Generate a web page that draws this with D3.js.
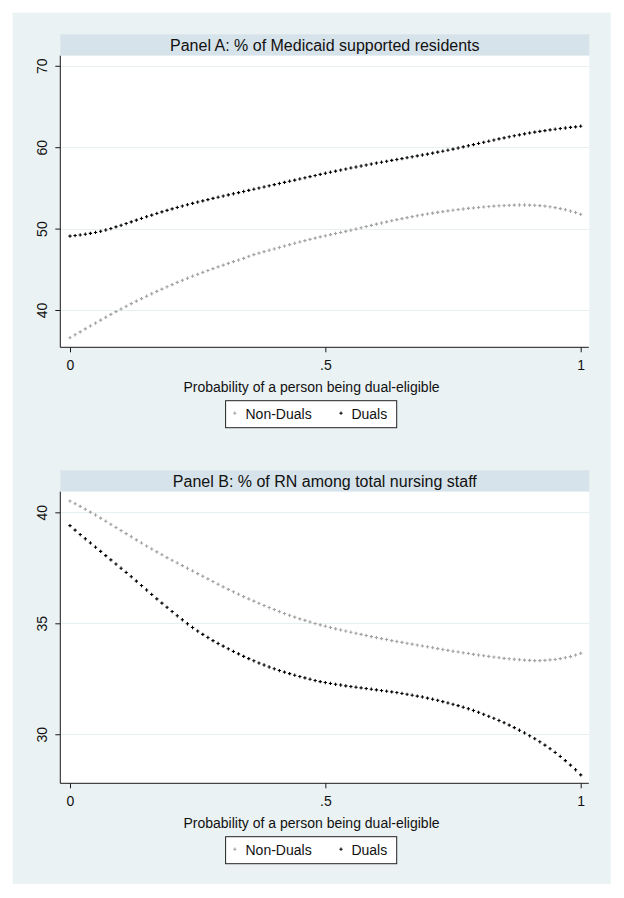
<!DOCTYPE html>
<html>
<head>
<meta charset="utf-8">
<script src="https://cdn.jsdelivr.net/npm/d3@7"></script>
<style>
  html, body { margin: 0; padding: 0; background: #ffffff; }
  svg { display: block; }
  text { font-family: "Liberation Sans", Arial, sans-serif; fill: #111; }
</style>
</head>
<body>
<svg id="chart" width="624" height="898"></svg>
<script>
// ---------- DATA ----------
const xGrid = [0,0.01,0.02,0.03,0.04,0.05,0.06,0.07,0.08,0.09,0.1,0.11,0.12,0.13,0.14,0.15,0.16,0.17,0.18,0.19,
  0.2,0.21,0.22,0.23,0.24,0.25,0.26,0.27,0.28,0.29,0.3,0.31,0.32,0.33,0.34,0.35,0.36,0.37,0.38,0.39,
  0.4,0.41,0.42,0.43,0.44,0.45,0.46,0.47,0.48,0.49,0.5,0.51,0.52,0.53,0.54,0.55,0.56,0.57,0.58,0.59,
  0.6,0.61,0.62,0.63,0.64,0.65,0.66,0.67,0.68,0.69,0.7,0.71,0.72,0.73,0.74,0.75,0.76,0.77,0.78,0.79,
  0.8,0.81,0.82,0.83,0.84,0.85,0.86,0.87,0.88,0.89,0.9,0.91,0.92,0.93,0.94,0.95,0.96,0.97,0.98,0.99,1];

const seriesNames = ["Non-Duals", "Duals"];

// Panel A: % of Medicaid supported residents
const panelA_nonDuals = [36.6,36.96,37.32,37.68,38.04,38.4,38.76,39.11,39.46,39.8,
  40.13,40.46,40.78,41.09,41.4,41.7,42.0,42.29,42.57,42.85,
  43.12,43.39,43.65,43.9,44.15,44.39,44.62,44.85,45.08,45.3,
  45.52,45.73,45.94,46.14,46.34,46.6,46.8,46.99,47.17,47.34,
  47.5,47.68,47.86,48.03,48.2,48.36,48.52,48.68,48.83,48.98,
  49.12,49.26,49.4,49.53,49.66,49.8,49.95,50.1,50.25,50.4,
  50.55,50.69,50.83,50.97,51.1,51.23,51.35,51.47,51.58,51.69,
  51.8,51.9,52.0,52.09,52.18,52.26,52.34,52.41,52.48,52.54,
  52.6,52.66,52.71,52.76,52.8,52.83,52.86,52.88,52.9,52.9,
  52.89,52.86,52.82,52.76,52.68,52.58,52.46,52.32,52.16,51.98,51.76];
const panelA_duals = [49.08,49.15,49.22,49.31,49.41,49.53,49.67,49.83,50.01,50.21,
  50.41,50.62,50.83,51.04,51.25,51.46,51.66,51.86,52.05,52.24,
  52.42,52.6,52.77,52.94,53.1,53.26,53.41,53.56,53.71,53.86,
  54.0,54.14,54.28,54.42,54.56,54.7,54.84,54.98,55.12,55.26,
  55.4,55.54,55.68,55.82,55.96,56.1,56.24,56.38,56.52,56.66,
  56.8,56.93,57.06,57.19,57.32,57.45,57.57,57.69,57.81,57.93,
  58.05,58.16,58.27,58.38,58.49,58.6,58.71,58.82,58.93,59.04,
  59.15,59.27,59.39,59.51,59.63,59.76,59.9,60.04,60.18,60.32,
  60.46,60.6,60.74,60.88,61.02,61.15,61.28,61.4,61.52,61.64,
  61.75,61.85,61.95,62.04,62.13,62.21,62.29,62.36,62.43,62.5,62.58];

// Panel B: % of RN among total nursing staff
const panelB_nonDuals = [40.51,40.39,40.27,40.14,40.01,39.88,39.74,39.6,39.46,39.32,
  39.18,39.04,38.9,38.76,38.62,38.48,38.35,38.22,38.09,37.96,
  37.84,37.72,37.6,37.48,37.36,37.24,37.12,37.0,36.88,36.76,
  36.64,36.53,36.42,36.31,36.2,36.1,36.0,35.9,35.8,35.71,
  35.62,35.53,35.44,35.36,35.28,35.2,35.13,35.06,34.99,34.93,
  34.87,34.81,34.75,34.7,34.65,34.6,34.55,34.5,34.45,34.4,
  34.36,34.31,34.27,34.22,34.18,34.14,34.1,34.06,34.02,33.98,
  33.94,33.9,33.86,33.82,33.78,33.74,33.71,33.67,33.64,33.6,
  33.57,33.54,33.51,33.48,33.45,33.42,33.4,33.38,33.36,33.34,
  33.33,33.32,33.32,33.33,33.35,33.37,33.41,33.45,33.5,33.57,33.65];
const panelB_duals = [39.4,39.2,39.0,38.81,38.62,38.43,38.24,38.05,37.86,37.67,
  37.48,37.29,37.1,36.9,36.7,36.5,36.3,36.1,35.91,35.72,
  35.53,35.34,35.16,34.98,34.81,34.65,34.5,34.36,34.22,34.09,
  33.97,33.85,33.73,33.62,33.51,33.41,33.31,33.21,33.12,33.03,
  32.95,32.87,32.8,32.73,32.66,32.6,32.54,32.48,32.42,32.37,
  32.33,32.29,32.25,32.22,32.18,32.15,32.12,32.09,32.06,32.03,
  32.0,31.97,31.94,31.91,31.88,31.84,31.8,31.76,31.72,31.68,
  31.63,31.58,31.53,31.47,31.41,31.35,31.29,31.22,31.15,31.07,
  30.99,30.9,30.81,30.72,30.62,30.52,30.41,30.3,30.18,30.06,
  29.93,29.8,29.66,29.51,29.35,29.18,29.0,28.81,28.61,28.4,28.17];

const xTicks = [0, 0.5, 1];
const xTickLabels = ["0", ".5", "1"];
const panelA_yTicks = [40, 50, 60, 70];
const panelB_yTicks = [30, 35, 40];

const panelTitles = ["Panel A: % of Medicaid supported residents", "Panel B: % of RN among total nursing staff"];
const xTitle = "Probability of a person being dual-eligible";

// ---------- LAYOUT ----------
const svg = d3.select("#chart");
const colors = { bg: "#eaf2f3", band: "#d7e3ea", grid: "#e6eff1", nonDuals: "#a3a3a3", duals: "#000000", axis: "#1a1a1a" };

svg.append("rect").attr("x", 12.7).attr("y", 12.7).attr("width", 598).attr("height", 871.3).attr("fill", colors.bg);

const plotLeft = 60.3, plotRight = 589.3;
const panels = [
  { top: 34.3, title: panelTitles[0], nd: panelA_nonDuals, d: panelA_duals, yTicks: panelA_yTicks, yDomain: [35.42, 71.24] },
  { top: 470.3, title: panelTitles[1], nd: panelB_nonDuals, d: panelB_duals, yTicks: panelB_yTicks, yDomain: [27.79, 40.93] }
];

const crossSym = d3.symbol().type(d3.symbolCross).size(6);

panels.forEach(p => {
  const g = svg.append("g");
  const bandH = 21.4;
  const plotTop = p.top + bandH;
  const plotBottom = p.top + 313;

  const x = d3.scaleLinear().domain([0, 1]).range([70, 580.7]);
  const y = d3.scaleLinear().domain(p.yDomain).range([plotBottom, plotTop]);

  // title band
  g.append("rect").attr("x", plotLeft).attr("y", p.top).attr("width", plotRight - plotLeft).attr("height", bandH).attr("fill", colors.band);
  g.append("text").attr("x", (plotLeft + plotRight) / 2).attr("y", p.top + 16.3)
    .attr("text-anchor", "middle").style("font-size", "16px").text(p.title);

  // plot region
  g.append("rect").attr("x", plotLeft).attr("y", plotTop).attr("width", plotRight - plotLeft).attr("height", plotBottom - plotTop).attr("fill", "#ffffff");

  // grid lines
  g.selectAll(".grid").data(p.yTicks).enter().append("line")
    .attr("x1", plotLeft + 1).attr("x2", plotRight)
    .attr("y1", d => Math.round(y(d)) + 0.5).attr("y2", d => Math.round(y(d)) + 0.5)
    .attr("stroke", colors.grid).attr("stroke-width", 1);

  // y axis
  const yAxis = d3.axisLeft(y).tickValues(p.yTicks).tickSize(5).tickPadding(3).tickFormat(d3.format("d"));
  const ya = g.append("g").attr("transform", `translate(${plotLeft},0)`).call(yAxis);
  ya.select(".domain").attr("stroke", colors.axis).attr("d", `M-0,${plotTop}V${plotBottom}`);
  ya.selectAll(".tick line").attr("stroke", colors.axis);
  ya.selectAll(".tick text")
    .attr("x", null).attr("dy", null)
    .attr("transform", "translate(-13.5,0) rotate(-90)")
    .attr("text-anchor", "middle")
    .style("font-size", "14px").style("font-family", "Liberation Sans, Arial, sans-serif").attr("fill", "#111");

  // x axis
  const xAxis = d3.axisBottom(x).tickValues(xTicks).tickSize(5).tickPadding(8).tickFormat((d, i) => xTickLabels[i]);
  const xa = g.append("g").attr("transform", `translate(0,${plotBottom})`).call(xAxis);
  xa.select(".domain").attr("stroke", colors.axis).attr("d", `M${plotLeft},0H${plotRight - 0.5}`);
  xa.selectAll(".tick line").attr("stroke", colors.axis);
  xa.selectAll(".tick text").style("font-size", "14px").style("font-family", "Liberation Sans, Arial, sans-serif").attr("fill", "#111");

  g.append("text").attr("x", 311.5).attr("y", plotBottom + 45)
    .attr("text-anchor", "middle").style("font-size", "14px").text(xTitle);

  // markers
  const mk = (vals, color) => {
    g.append("g").selectAll("path").data(xGrid.map((xv, i) => [xv, vals[i]])).enter().append("path")
      .attr("d", crossSym)
      .attr("transform", d => `translate(${x(d[0])},${y(d[1])})`)
      .attr("fill", color);
  };
  mk(p.nd, colors.nonDuals);
  mk(p.d, colors.duals);

  // legend
  const ly = p.top + 366.4;
  g.append("rect").attr("x", 225.6).attr("y", ly).attr("width", 171.1).attr("height", 27)
    .attr("fill", "#ffffff").attr("stroke", "#222").attr("stroke-width", 1);
  const legendItems = [
    { name: seriesNames[0], color: colors.nonDuals, mx: 234.8, tx: 245.5 },
    { name: seriesNames[1], color: colors.duals, mx: 341, tx: 351.4 }
  ];
  legendItems.forEach(it => {
    g.append("path").attr("d", crossSym).attr("transform", `translate(${it.mx},${ly + 12.5})`).attr("fill", it.color);
    g.append("text").attr("x", it.tx).attr("y", ly + 18.5).style("font-size", "14px").text(it.name);
  });
});
</script>
</body>
</html>
